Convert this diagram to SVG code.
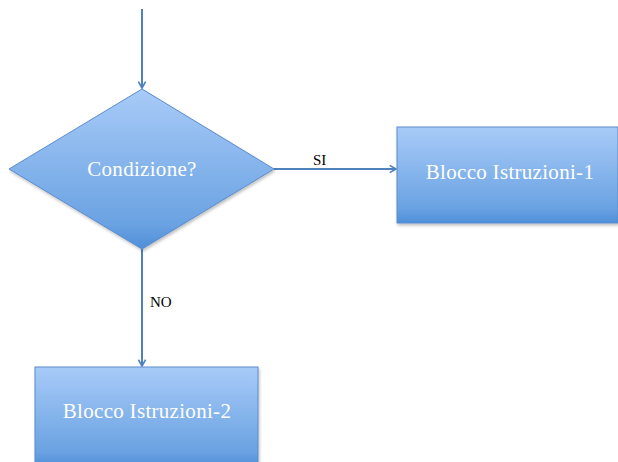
<svg xmlns="http://www.w3.org/2000/svg" width="618" height="462" viewBox="0 0 618 462">
<defs>
<linearGradient id="g" x1="0" y1="0" x2="0" y2="1">
<stop offset="0" stop-color="#a8cbf8"/>
<stop offset="0.85" stop-color="#6aa2e2"/>
<stop offset="1" stop-color="#4d8ed8"/>
</linearGradient>
<marker id="a" viewBox="0 0 10 10" refX="8" refY="5" markerWidth="9" markerHeight="9" orient="auto" markerUnits="userSpaceOnUse">
<path d="M1,1 L8,5 L1,9" fill="none" stroke="#4f81bd" stroke-width="1.8"/>
</marker>
<filter id="s" x="-10%" y="-10%" width="130%" height="130%">
<feDropShadow dx="1" dy="2" stdDeviation="1.5" flood-color="#000" flood-opacity="0.25"/>
</filter>
<style>
.n{fill:url(#g);stroke:#5b8ccb;stroke-width:1;filter:url(#s)}
.t{font-family:"Liberation Serif","DejaVu Serif",serif;font-size:21px;fill:#fff;text-anchor:middle;letter-spacing:0.3px}
.l{font-family:"Liberation Serif","DejaVu Serif",serif;font-size:15px;fill:#000}
.c{stroke:#4f81bd;stroke-width:2;fill:none;marker-end:url(#a)}
</style>
</defs>
<rect width="618" height="462" fill="#fff"/>
<g id="connectors">
<line class="c" x1="142" y1="9" x2="142" y2="88"/>
<line class="c" x1="274" y1="169" x2="396" y2="169"/>
<line class="c" x1="142" y1="249" x2="142" y2="366"/>
<text class="l" x="313" y="165">SI</text>
<text class="l" x="150" y="307">NO</text>
</g>
<g id="cond">
<polygon class="n" points="142,89 274,169 142,249 9,169"/>
<text class="t" x="142" y="176">Condizione?</text>
</g>
<g id="b1">
<rect class="n" x="397" y="127" width="221" height="96"/>
<text class="t" x="510" y="179">Blocco Istruzioni-1</text>
</g>
<g id="b2">
<rect class="n" x="35" y="367" width="223" height="100"/>
<text class="t" x="147" y="418">Blocco Istruzioni-2</text>
</g>
</svg>
